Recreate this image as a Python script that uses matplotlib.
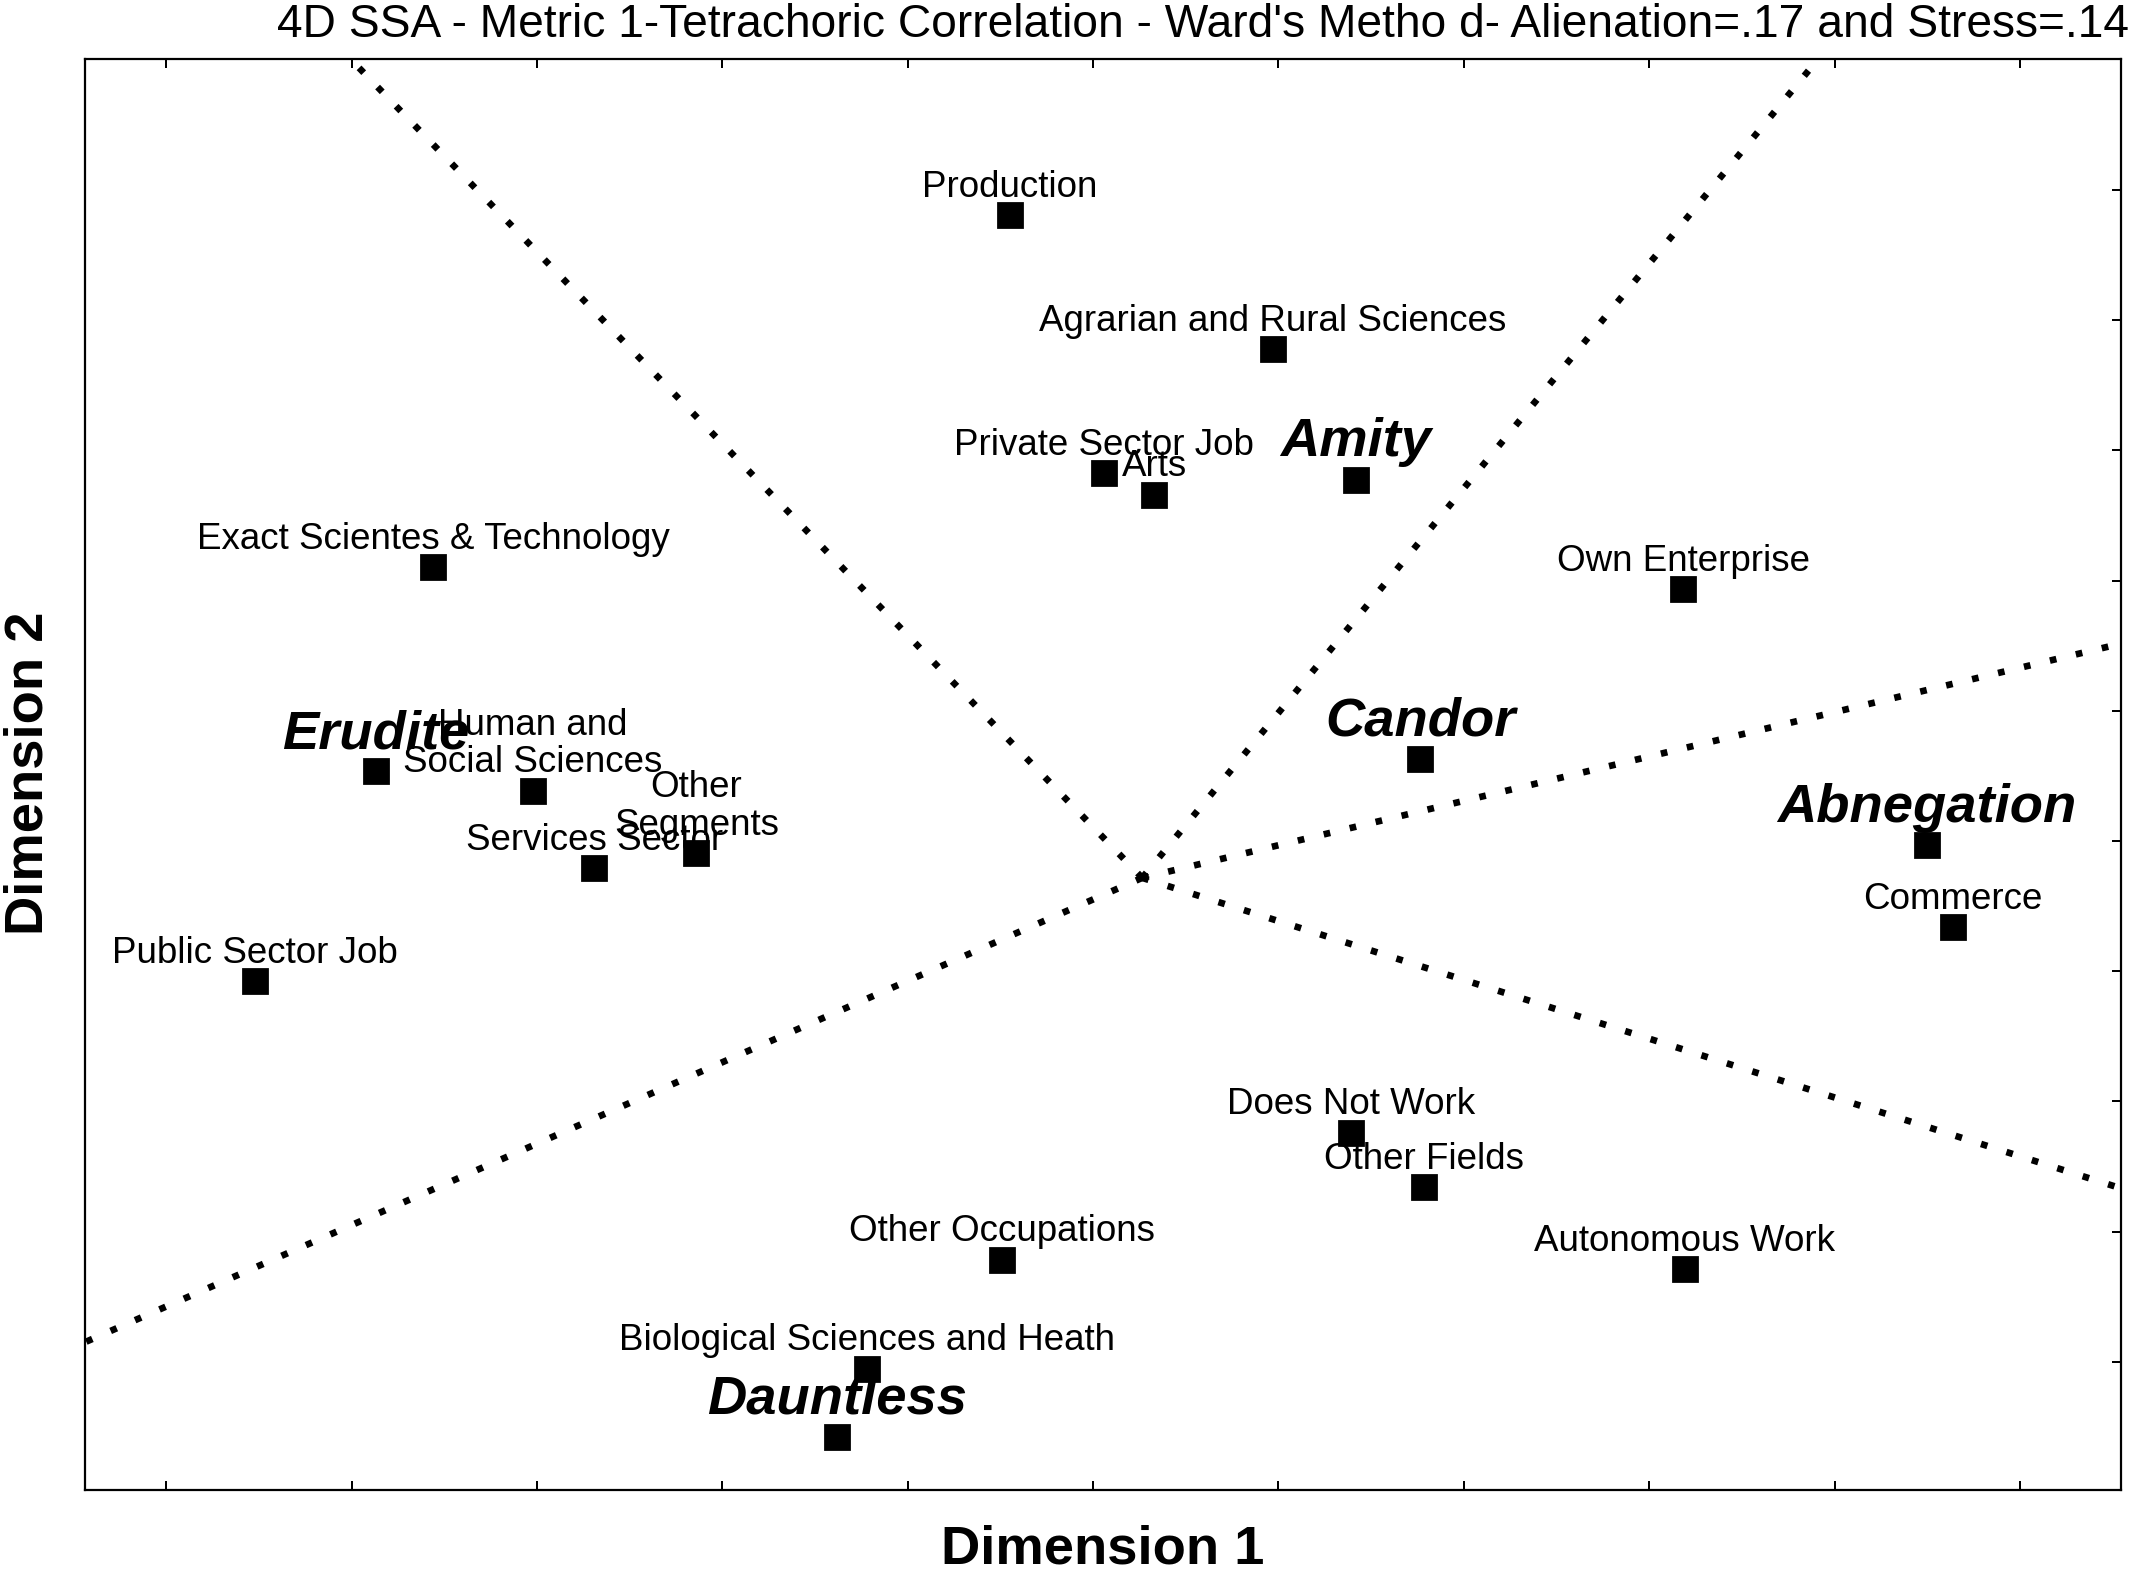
import matplotlib
matplotlib.use('Agg')
import matplotlib.pyplot as plt

plt.rcParams['font.family'] = ['Liberation Sans', 'DejaVu Sans']

# item points of the SSA map (in tick units of the plot)
items = ['Production', 'Agrarian and Rural Sciences', 'Private Sector Job', 'Arts',
         'Exact Scientes & Technology', 'Own Enterprise', 'Human and\nSocial Sciences',
         'Other\nSegments', 'Services Sector', 'Commerce', 'Public Sector Job',
         'Does Not Work', 'Other Fields', 'Other Occupations', 'Autonomous Work',
         'Biological Sciences and Heath']
item_x = [4.551, 5.971, 5.059, 5.331, 1.441, 8.184, 1.978, 2.860, 2.309, 9.640,
          0.478, 6.390, 6.787, 4.507, 8.191, 3.779]
item_y = [8.806, 7.780, 6.827, 6.660, 6.105, 5.937, 4.387, 3.906, 3.791, 3.340,
          2.921, 1.759, 1.340, 0.785, 0.712, -0.052]

# facet points
facets = ['Amity', 'Erudite', 'Candor', 'Abnegation', 'Dauntless']
facet_x = [6.419, 1.132, 6.765, 9.500, 3.618]
facet_y = [6.775, 4.534, 4.628, 3.969, -0.576]

# partition rays: common centre and where each ray leaves the plot
center_x, center_y = 5.265, 3.717
ray_x = [0.985, 8.919, 10.55, 10.55, -0.45]
ray_y = [10.02, 10.02, 5.518, 1.330, 0.143]

title = "4D SSA - Metric 1-Tetrachoric Correlation - Ward's Metho d- Alienation=.17 and Stress=.14"

fig = plt.figure(figsize=(10.665, 7.865), dpi=200)
ax = fig.add_axes([0.03962, 0.05286, 0.95463, 0.90988])

for ex, ey in zip(ray_x, ray_y):
    ax.plot([center_x, ex], [center_y, ey], color='black', lw=2.4,
            linestyle=(0, (1, 3)), dash_capstyle='butt', zorder=1)

ax.plot(item_x, item_y, 's', color='black', markersize=8.3, zorder=3)
ax.plot(facet_x, facet_y, 's', color='black', markersize=8.3, zorder=3)

for name, x, y in zip(items, item_x, item_y):
    ax.annotate(name, (x, y), xytext=(0, 6.6), textcoords='offset points',
                ha='center', va='baseline', fontsize=13.25, linespacing=1.1, zorder=4)

for name, x, y in zip(facets, facet_x, facet_y):
    ax.annotate(name, (x, y), xytext=(0, 8.4), textcoords='offset points',
                ha='center', va='baseline', fontsize=19.6, fontweight='bold',
                fontstyle='italic', zorder=4)

ax.set_xlim(-0.441, 10.544)
ax.set_ylim(-0.984, 10.01)
ax.set_xticks(range(11))
ax.set_yticks(range(10))
ax.tick_params(direction='in', top=True, right=True, left=False,
               labelbottom=False, labelleft=False, length=3.2, width=0.72)
for side in ax.spines:
    ax.spines[side].set_linewidth(0.8)

fig.text(0.998, 0.9844, title, ha='right', va='center', fontsize=16.6)
fig.text(0.517, 0.0147, 'Dimension 1', ha='center', va='center',
         fontsize=19.6, fontweight='bold')
fig.text(0.0135, 0.5087, 'Dimension 2', ha='center', va='center',
         fontsize=19.6, fontweight='bold', rotation=90)

fig.savefig('out.png', dpi=200)
